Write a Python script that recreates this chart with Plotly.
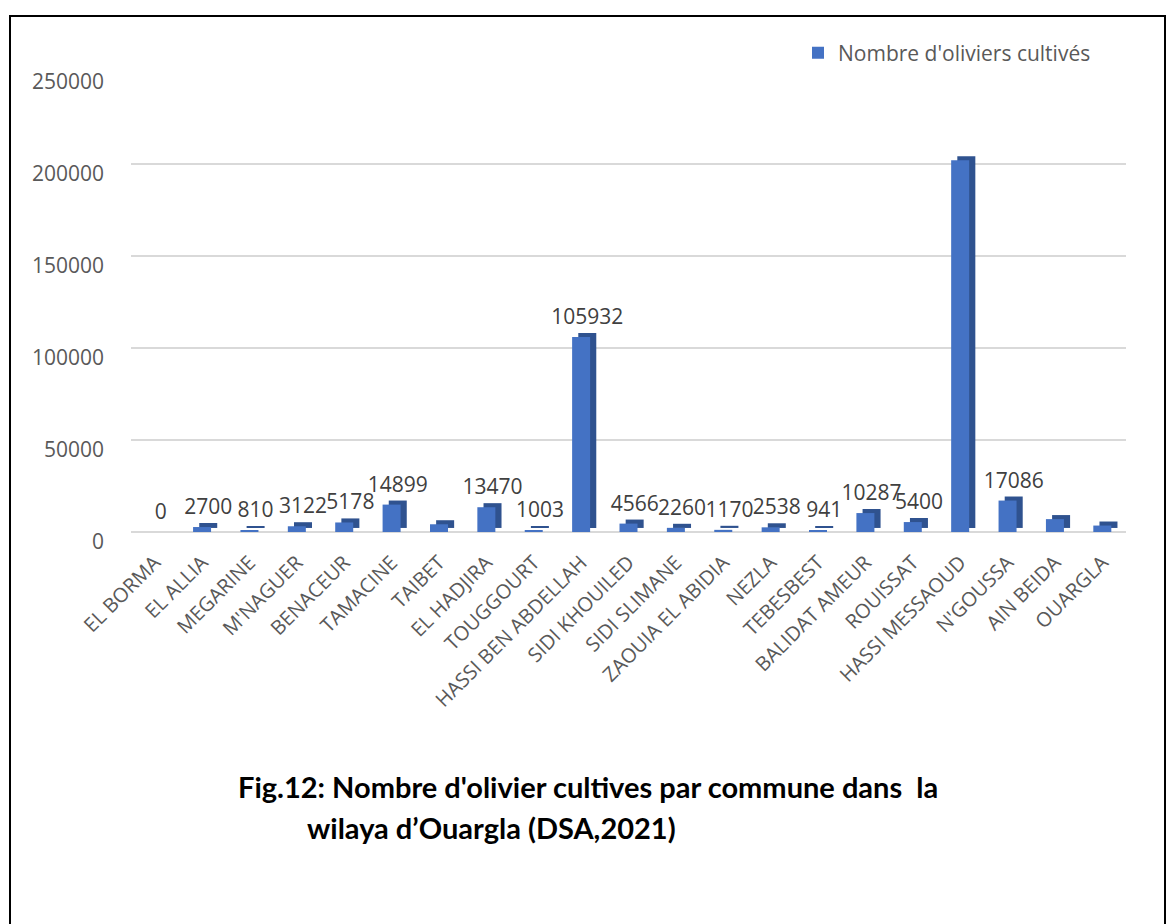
import plotly.graph_objects as go

# Communes of the wilaya of Ouargla
communes = [
    "EL BORMA", "EL ALLIA", "MEGARINE", "M'NAGUER", "BENACEUR", "TAMACINE",
    "TAIBET", "EL HADJIRA", "TOUGGOURT", "HASSI BEN ABDELLAH", "SIDI KHOUILED",
    "SIDI SLIMANE", "ZAOUIA EL ABIDIA", "NEZLA", "TEBESBEST", "BALIDAT AMEUR",
    "ROUISSAT", "HASSI MESSAOUD", "N'GOUSSA", "AIN BEIDA", "OUARGLA",
]

# Number of olive trees cultivated per commune
oliviers = [
    0, 2700, 810, 3122, 5178, 14899,
    4200, 13470, 1003, 105932, 4566,
    2260, 1170, 2538, 941, 10287,
    5400, 202000, 17086, 7000, 3500,
]

# Whether the value is printed above the bar
labelled = [
    True, True, True, True, True, True,
    False, True, True, True, True,
    True, True, True, True, True,
    True, False, True, False, False,
]

series_name = "Nombre d'oliviers cultivés"
y_ticks = [0, 50000, 100000, 150000, 200000, 250000]

FRONT = "#4472C4"
SHADE = "#2F528F"
DEPTH = 2200          # pseudo-3D depth of the columns, in axis units
BAR_W = 0.38
FONT = "Open Sans"

W, H = 1176, 924
L, R, T, B = 131, 50, 72, 392
pw, ph = W - L - R, H - T - B


def px_x(x):
    return (x - L) / pw


def px_y(y):
    return (H - B - y) / ph


labels = [str(v) if show else "" for v, show in zip(oliviers, labelled)]

fig = go.Figure()

# shaded side/top faces, shifted right and up behind the front faces
fig.add_trace(go.Bar(
    x=communes, y=oliviers, base=DEPTH,
    width=BAR_W, offset=-BAR_W / 2 + 0.13,
    marker=dict(color=SHADE, line=dict(width=0)),
    text=labels, textposition="outside", constraintext="none",
    textfont=dict(family=FONT, size=21, color="#404040"),
    cliponaxis=False, showlegend=False, hoverinfo="skip",
))

# front faces
fig.add_trace(go.Bar(
    x=communes, y=oliviers, name=series_name,
    width=BAR_W, offset=-BAR_W / 2,
    marker=dict(color=FRONT, line=dict(width=0)),
    cliponaxis=False,
))

fig.update_layout(
    width=W, height=H,
    margin=dict(l=L, r=R, t=T, b=B),
    paper_bgcolor="white", plot_bgcolor="white",
    barmode="overlay",
    font=dict(family=FONT, color="#595959"),
    showlegend=True,
    legend=dict(
        orientation="h", x=px_x(798), y=px_y(53),
        xanchor="left", yanchor="middle",
        font=dict(family=FONT, size=21, color="#595959"),
        bgcolor="rgba(0,0,0,0)", itemwidth=30,
    ),
    xaxis=dict(
        tickangle=-45, tickfont=dict(family=FONT, size=20, color="#595959"),
        showgrid=False, showline=False, ticks="",
        ticklabelstandoff=14,
    ),
    yaxis=dict(
        range=[0, 250000], tickvals=y_ticks, tickformat="d",
        tickfont=dict(family=FONT, size=21, color="#595959"),
        showgrid=True, gridcolor="#D9D9D9", gridwidth=2,
        zeroline=True, zerolinecolor="#D9D9D9", zerolinewidth=2,
        showline=False, ticks="", ticklabelstandoff=26, ticklabelshift=10,
    ),
    shapes=[
        dict(type="rect", xref="paper", yref="paper",
             x0=px_x(10), x1=px_x(1165), y0=px_y(940), y1=px_y(16),
             line=dict(color="black", width=2), fillcolor="rgba(0,0,0,0)",
             layer="below"),
    ],
    annotations=[
        dict(text="Fig.12: Nombre d'olivier cultives par commune dans  la",
             xref="paper", yref="paper", x=px_x(588), y=px_y(786),
             xanchor="center", yanchor="middle", showarrow=False,
             font=dict(family="Lato", size=29, color="black", weight="bold")),
        dict(text="wilaya d\u2019Ouargla (DSA,2021)",
             xref="paper", yref="paper", x=px_x(305), y=px_y(827),
             xanchor="left", yanchor="middle", showarrow=False,
             font=dict(family="Lato", size=29, color="black", weight="bold")),
    ],
)

fig.write_html("out.html")
